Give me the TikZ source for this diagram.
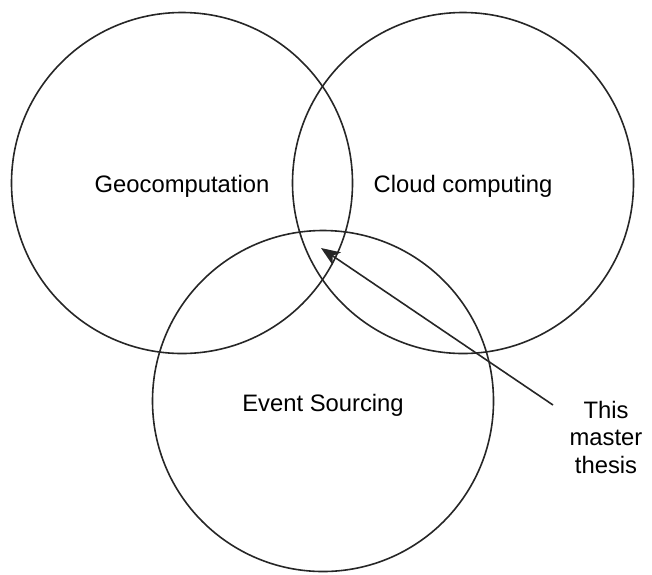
\documentclass[tikz,border=0pt]{standalone}
\usepackage{fontspec}
\setmainfont{Liberation Sans}
\usetikzlibrary{arrows.meta}
\begin{document}
\begin{tikzpicture}[x=1pt,y=-1pt,
  topic/.style={draw=black!85, line width=1.6pt, circle, minimum size=341pt, inner sep=0pt},
  topictext/.style={inner sep=0pt, font=\fontsize{23.8pt}{28pt}\selectfont},
  note/.style={align=center, inner sep=0pt, font=\fontsize{23.8pt}{27.5pt}\selectfont},
  pointer/.style={draw=black!85, line width=1.6pt, -{Stealth[length=19pt,width=15pt,inset=5pt]}}]
  \useasboundingbox (0,0) rectangle (652,574);
  % the three overlapping fields
  \node[topic, label={[topictext, yshift=-3pt]center:Geocomputation}]  (geo)   at (182,183) {};
  \node[topic, label={[topictext, yshift=-3pt]center:Cloud computing}] (cloud) at (463,183) {};
  \node[topic, label={[topictext, yshift=-4pt]center:Event Sourcing}]  (event) at (323,401) {};
  % pointer into the shared region
  \node[note]  (thesis) at (606,437) {This\\master\\thesis};
  \coordinate (tail) at (553,405);
  \coordinate (tip)  at (321,248);
  \draw[pointer] (tail) -- (tip);
\end{tikzpicture}
\end{document}
